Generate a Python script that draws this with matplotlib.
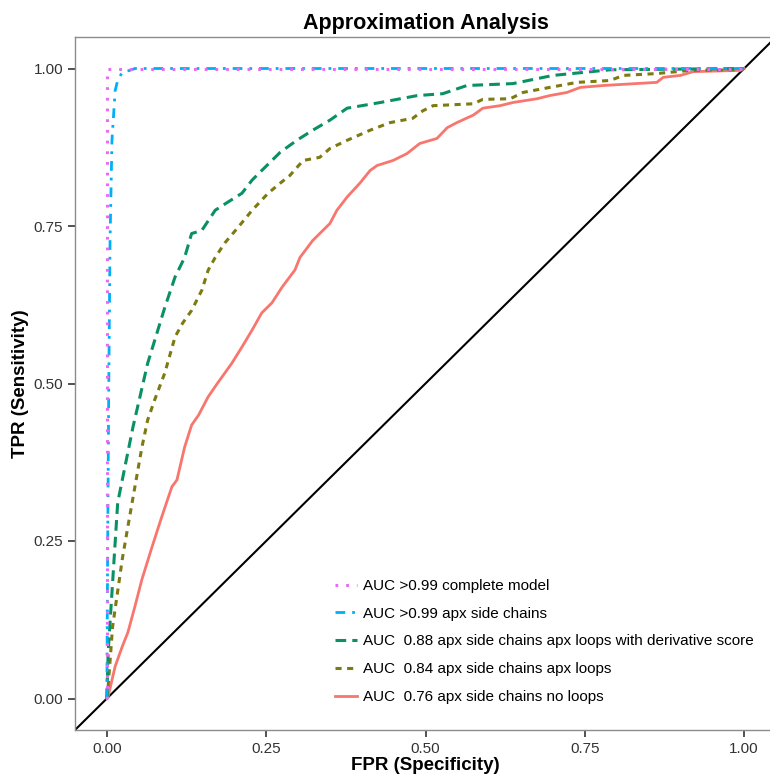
import matplotlib
matplotlib.use('Agg')
import matplotlib.pyplot as plt

plt.rcParams['font.family'] = ['Liberation Sans', 'DejaVu Sans']

# ROC curves (FPR, TPR)
complete_fpr = [0.0, 0.0, 1.0]
complete_tpr = [0.0, 1.0, 1.0]

side_fpr = [0.0, 0.001, 0.003, 0.005, 0.008, 0.013, 0.017, 0.024, 0.036, 0.044, 1.0]
side_tpr = [0.0, 0.20, 0.50, 0.727, 0.886, 0.965, 0.981, 0.994, 0.997, 1.0, 1.0]

deriv_fpr = [0.0, 0.002, 0.017, 0.041, 0.064, 0.091, 0.107, 0.122, 0.133, 0.149, 0.170,
             0.190, 0.212, 0.228, 0.272, 0.298, 0.323, 0.350, 0.377, 0.429, 0.487,
             0.527, 0.565, 0.637, 0.700, 0.790, 0.998, 1.0]
deriv_tpr = [0.0, 0.073, 0.311, 0.431, 0.532, 0.621, 0.669, 0.700, 0.738, 0.743, 0.775,
             0.788, 0.802, 0.823, 0.867, 0.886, 0.902, 0.918, 0.937, 0.946, 0.957,
             0.960, 0.973, 0.976, 0.989, 0.998, 1.0, 1.0]

loops_fpr = [0.0, 0.002, 0.009, 0.024, 0.033, 0.044, 0.055, 0.064, 0.075, 0.091, 0.107,
             0.119, 0.133, 0.149, 0.159, 0.170, 0.185, 0.206, 0.228, 0.253, 0.272,
             0.287, 0.308, 0.334, 0.350, 0.377, 0.413, 0.444, 0.480, 0.496, 0.512,
             0.575, 0.590, 0.633, 0.653, 0.695, 0.738, 0.790, 0.810, 0.863, 0.915,
             0.994, 1.0]
loops_tpr = [0.0, 0.019, 0.114, 0.220, 0.273, 0.336, 0.399, 0.442, 0.474, 0.517, 0.574,
             0.596, 0.616, 0.648, 0.680, 0.700, 0.723, 0.748, 0.775, 0.802, 0.818,
             0.830, 0.854, 0.859, 0.873, 0.886, 0.902, 0.914, 0.921, 0.933, 0.941,
             0.944, 0.951, 0.952, 0.962, 0.970, 0.978, 0.981, 0.989, 0.992, 0.997,
             0.998, 1.0]

noloops_fpr = [0.0, 0.002, 0.013, 0.024, 0.033, 0.044, 0.055, 0.071, 0.086, 0.102, 0.110,
               0.122, 0.133, 0.144, 0.159, 0.174, 0.196, 0.212, 0.228, 0.243, 0.259,
               0.275, 0.295, 0.303, 0.323, 0.350, 0.361, 0.377, 0.397, 0.413, 0.424,
               0.449, 0.471, 0.491, 0.518, 0.534, 0.549, 0.575, 0.590, 0.617, 0.637,
               0.675, 0.695, 0.722, 0.743, 0.779, 0.863, 0.873, 0.900, 0.920, 0.994, 1.0]
noloops_tpr = [0.0, 0.003, 0.051, 0.082, 0.105, 0.146, 0.189, 0.241, 0.288, 0.336, 0.347,
               0.399, 0.434, 0.450, 0.479, 0.501, 0.532, 0.558, 0.585, 0.612, 0.628,
               0.653, 0.680, 0.700, 0.727, 0.754, 0.775, 0.796, 0.818, 0.838, 0.846,
               0.854, 0.865, 0.881, 0.889, 0.906, 0.914, 0.926, 0.937, 0.941, 0.946,
               0.952, 0.957, 0.962, 0.970, 0.973, 0.978, 0.986, 0.989, 0.995, 0.997, 1.0]

labels = ['AUC >0.99 complete model',
          'AUC >0.99 apx side chains',
          'AUC  0.88 apx side chains apx loops with derivative score',
          'AUC  0.84 apx side chains apx loops',
          'AUC  0.76 apx side chains no loops']
ticks = [0.0, 0.25, 0.5, 0.75, 1.0]
tick_labels = ['0.00', '0.25', '0.50', '0.75', '1.00']

fig = plt.figure(figsize=(7.7, 7.76), dpi=100)
ax = fig.add_axes([75 / 770, 46 / 776, 701 / 770, 693 / 776])

ax.axline((0, 0), slope=1, color='black', lw=1.5, zorder=1)

h_red, = ax.plot(noloops_fpr, noloops_tpr, color='#F8766D', lw=2, zorder=2)
h_olive, = ax.plot(loops_fpr, loops_tpr, color='#7D7A12', lw=2.2,
                   dashes=(2, 1.8), zorder=3)
h_green, = ax.plot(deriv_fpr, deriv_tpr, color='#0A9163', lw=2.2,
                   dashes=(3.5, 2), zorder=4)
h_blue, = ax.plot(side_fpr, side_tpr, color='#00B0F6', lw=2,
                  dashes=(3.5, 2.5, 1, 2.5), zorder=5)
h_pink, = ax.plot(complete_fpr, complete_tpr, color='#E76BF3', lw=2.2,
                  dashes=(0.9, 2.6), zorder=6)

ax.legend([h_pink, h_blue, h_green, h_olive, h_red], labels,
          loc='upper left', bbox_to_anchor=(0.371, 0.218), frameon=False,
          fontsize=11, handlelength=1.45, handletextpad=0.4,
          labelspacing=0.9, borderpad=0, borderaxespad=0)

ax.set_xlim(-0.05, 1.05)
ax.set_ylim(-0.05, 1.05)
ax.set_xticks(ticks)
ax.set_xticklabels(tick_labels)
ax.set_yticks(ticks)
ax.set_yticklabels(tick_labels)
ax.tick_params(direction='out', length=5, width=1.2, color='#333333',
               labelsize=11, labelcolor='#333333')

for s in ax.spines.values():
    s.set_color('#8C8C8C')
    s.set_linewidth(1)

ax.set_title('Approximation Analysis', fontsize=15.5, fontweight='bold', pad=6)
ax.set_xlabel('FPR (Specificity)', fontsize=13.5, fontweight='bold', labelpad=1)
ax.set_ylabel('TPR (Sensitivity)', fontsize=13.5, fontweight='bold', labelpad=3)

fig.savefig('out.png', dpi=100)
